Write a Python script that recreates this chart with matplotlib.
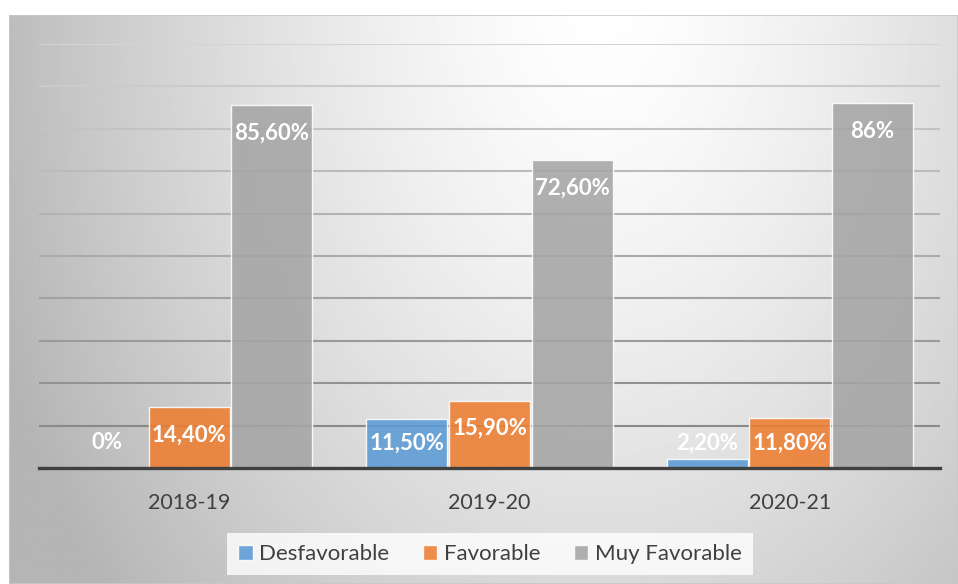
import numpy as np
import matplotlib
matplotlib.use("Agg")
import matplotlib.pyplot as plt
import matplotlib.patches as patches

# data
categories = ["2018-19", "2019-20", "2020-21"]
series_names = ["Desfavorable", "Favorable", "Muy Favorable"]
desfavorable = [0.0, 11.5, 2.2]
favorable = [14.4, 15.9, 11.8]
muy_favorable = [85.6, 72.6, 86.0]
value_labels = [["0%", "11,50%", "2,20%"],
                ["14,40%", "15,90%", "11,80%"],
                ["85,60%", "72,60%", "86%"]]
colors = ["#5b9bd5", "#ed7d31", "#a5a5a5"]

plt.rcParams['font.family'] = ['Lato', 'DejaVu Sans']

W, H = 958, 584
fig = plt.figure(figsize=(W / 100, H / 100), dpi=100)
fig.patch.set_facecolor("white")

# chart area background: radial-ish grey gradient
bg = fig.add_axes([9 / W, 0, (W - 9) / W, (H - 15) / H], zorder=-2)
gx, gy = np.meshgrid(np.linspace(9, W, 400), np.linspace(15, H, 250))
d = np.sqrt(((gx - 600) / 560) ** 2 + ((gy - 0) / 820) ** 2)
shade = 1.0 - 0.24 * np.clip(d, 0, 1.15) ** 1.4
bg.imshow(shade, cmap="gray", vmin=0, vmax=1, aspect="auto",
          extent=[0, 1, 1, 0], interpolation="bilinear")
bg.set_xlim(0, 1)
bg.set_ylim(1, 0)
bg.axis("off")
bg.add_patch(patches.Rectangle((0, 0), 1, 1, transform=bg.transAxes,
                               fill=False, edgecolor="#c8c8c8", lw=1.2))

ax = fig.add_axes([39 / W, 116 / H, (940 - 39) / W, 424 / H])
ax.patch.set_alpha(0)
ax.set_xlim(-0.5, 2.5)
ax.set_ylim(0, 100)

# gridlines, lighter at the top like the original
for g in range(10, 101, 10):
    t = (g - 10) / 90
    c = 0.54 + t * 0.29
    ax.axhline(g, color=(c, c, c), lw=1.5, zorder=0)

x = np.arange(len(categories))
width = 0.27
all_series = [desfavorable, favorable, muy_favorable]
for i, vals in enumerate(all_series):
    xs = x + (i - 1) * (width + 0.005)
    ax.bar(xs, vals, width=width, color=colors[i], alpha=0.88,
           edgecolor=(1, 1, 1, 0.55), linewidth=1.0, zorder=2,
           label=series_names[i])
    for xx, v, lab in zip(xs, vals, value_labels[i]):
        y = max(v - 6.6, 5.9)
        ax.text(xx, y, lab, ha="center", va="center", color="white",
                fontsize=16, fontweight="bold", zorder=4)

ax.axhline(0, color="#404040", lw=2.4, zorder=3, clip_on=False)

for s in ax.spines.values():
    s.set_visible(False)
ax.set_yticks([])
ax.set_xticks(x)
ax.set_xticklabels(categories, fontsize=15.5, color="#404040")
ax.tick_params(axis="x", length=0, pad=18)

leg = fig.legend(loc="center", bbox_to_anchor=(490 / W, 30 / H), ncol=3,
                 fontsize=16, frameon=True, fancybox=False,
                 handlelength=0.65, handleheight=0.65, handletextpad=0.3,
                 columnspacing=1.5, borderpad=0.5)
leg.get_frame().set_facecolor((1, 1, 1, 0.35))
leg.get_frame().set_edgecolor("none")
for t in leg.get_texts():
    t.set_color("#404040")

fig.savefig("out.png", dpi=100)
